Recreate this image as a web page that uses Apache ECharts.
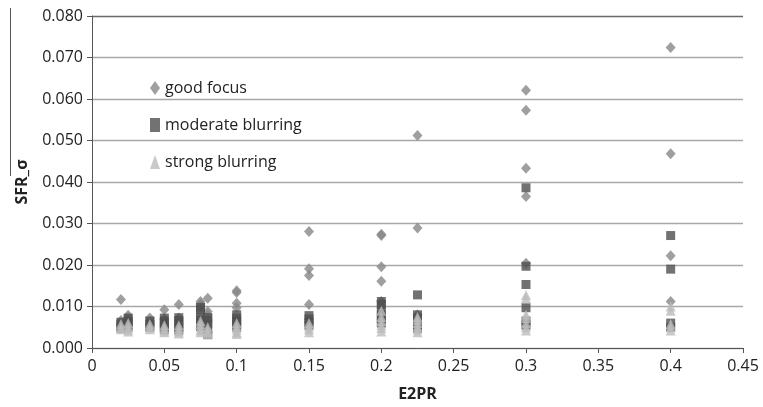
<!DOCTYPE html>
<html>
<head>
<meta charset="utf-8">
<script src="https://cdn.jsdelivr.net/npm/echarts@6/dist/echarts.min.js"></script>
<style>
  html, body { margin: 0; padding: 0; background: #ffffff; }
  #chart { width: 763px; height: 407px; }
</style>
</head>
<body>
<div id="chart"></div>
<script>
// SFR_sigma measured against E2PR for three focus conditions
const seriesNames = ['good focus', 'moderate blurring', 'strong blurring'];

const goodFocus = [
  [0.02, 0.0117], [0.02, 0.0066], [0.02, 0.0060],
  [0.025, 0.0079], [0.025, 0.0073], [0.025, 0.0068],
  [0.04, 0.0072], [0.04, 0.0065],
  [0.05, 0.0092], [0.05, 0.0070],
  [0.06, 0.0105], [0.06, 0.0072],
  [0.075, 0.0112], [0.075, 0.0106], [0.075, 0.0100],
  [0.08, 0.0120], [0.08, 0.0088], [0.08, 0.0080],
  [0.1, 0.0138], [0.1, 0.0134], [0.1, 0.0108], [0.1, 0.0097],
  [0.15, 0.0281], [0.15, 0.0191], [0.15, 0.0175], [0.15, 0.0105],
  [0.2, 0.0274], [0.2, 0.0271], [0.2, 0.0196], [0.2, 0.0161], [0.2, 0.0112],
  [0.225, 0.0512], [0.225, 0.0289], [0.225, 0.0080],
  [0.3, 0.0621], [0.3, 0.0573], [0.3, 0.0433], [0.3, 0.0365], [0.3, 0.0204],
  [0.4, 0.0724], [0.4, 0.0468], [0.4, 0.0222], [0.4, 0.0112]
];

const moderateBlurring = [
  [0.02, 0.0062], [0.02, 0.0055], [0.02, 0.0048],
  [0.025, 0.0072], [0.025, 0.0065], [0.025, 0.0058], [0.025, 0.0050],
  [0.04, 0.0065], [0.04, 0.0058], [0.04, 0.0050],
  [0.05, 0.0072], [0.05, 0.0065], [0.05, 0.0058], [0.05, 0.0050], [0.05, 0.0045],
  [0.06, 0.0073], [0.06, 0.0066], [0.06, 0.0058], [0.06, 0.0050], [0.06, 0.0043],
  [0.075, 0.0098], [0.075, 0.0092], [0.075, 0.0075], [0.075, 0.0068], [0.075, 0.0060], [0.075, 0.0052],
  [0.08, 0.0073], [0.08, 0.0066], [0.08, 0.0058], [0.08, 0.0045], [0.08, 0.0032],
  [0.1, 0.0080], [0.1, 0.0072], [0.1, 0.0065], [0.1, 0.0058], [0.1, 0.0050],
  [0.15, 0.0078], [0.15, 0.0070], [0.15, 0.0062], [0.15, 0.0055],
  [0.2, 0.0112], [0.2, 0.0105], [0.2, 0.0090], [0.2, 0.0080], [0.2, 0.0070], [0.2, 0.0060],
  [0.225, 0.0128], [0.225, 0.0080], [0.225, 0.0072], [0.225, 0.0064], [0.225, 0.0056], [0.225, 0.0048],
  [0.3, 0.0386], [0.3, 0.0197], [0.3, 0.0153], [0.3, 0.0097], [0.3, 0.0065], [0.3, 0.0055],
  [0.4, 0.0271], [0.4, 0.0190], [0.4, 0.0060], [0.4, 0.0050]
];

const strongBlurring = [
  [0.02, 0.0058], [0.02, 0.0050], [0.02, 0.0045],
  [0.025, 0.0060], [0.025, 0.0052], [0.025, 0.0045], [0.025, 0.0040],
  [0.04, 0.0058], [0.04, 0.0050], [0.04, 0.0045],
  [0.05, 0.0055], [0.05, 0.0048], [0.05, 0.0042], [0.05, 0.0038],
  [0.06, 0.0055], [0.06, 0.0047], [0.06, 0.0040], [0.06, 0.0035],
  [0.075, 0.0065], [0.075, 0.0058], [0.075, 0.0050], [0.075, 0.0043], [0.075, 0.0038],
  [0.08, 0.0050], [0.08, 0.0043], [0.08, 0.0038], [0.08, 0.0034],
  [0.1, 0.0060], [0.1, 0.0052], [0.1, 0.0045], [0.1, 0.0038], [0.1, 0.0034],
  [0.15, 0.0060], [0.15, 0.0052], [0.15, 0.0045], [0.15, 0.0038],
  [0.2, 0.0090], [0.2, 0.0075], [0.2, 0.0065], [0.2, 0.0055], [0.2, 0.0048], [0.2, 0.0040],
  [0.225, 0.0075], [0.225, 0.0068], [0.225, 0.0060], [0.225, 0.0052], [0.225, 0.0045], [0.225, 0.0038],
  [0.3, 0.0128], [0.3, 0.0120], [0.3, 0.0080], [0.3, 0.0072], [0.3, 0.0060], [0.3, 0.0050], [0.3, 0.0042],
  [0.4, 0.0100], [0.4, 0.0090], [0.4, 0.0058], [0.4, 0.0050], [0.4, 0.0042]
];

const FONT = '"Open Sans", Lato, sans-serif';
const chart = echarts.init(document.getElementById('chart'), null, { renderer: 'canvas' });

chart.setOption({
  animation: false,
  backgroundColor: '#ffffff',
  grid: { left: 92, right: 20, top: 16, bottom: 59 },
  legend: {
    orient: 'vertical',
    left: 145,
    top: 75,
    itemGap: 21,
    itemWidth: 10,
    itemHeight: 14,
    textStyle: { fontFamily: FONT, fontSize: 16, color: '#222' },
    data: [
      { name: seriesNames[0], icon: 'diamond', itemStyle: { color: '#878787' } },
      { name: seriesNames[1], icon: 'rect', itemStyle: { color: '#4f4f4f' } },
      { name: seriesNames[2], icon: 'triangle', itemStyle: { color: '#bcbcbc' } }
    ]
  },
  xAxis: {
    type: 'value',
    min: 0, max: 0.45, interval: 0.05,
    name: 'E2PR',
    nameLocation: 'middle',
    nameGap: 38,
    nameTextStyle: { fontFamily: FONT, fontSize: 16, fontWeight: 'bold', color: '#222' },
    axisLine: { lineStyle: { color: '#555', width: 1 } },
    axisTick: { show: true, length: 5, inside: false, lineStyle: { color: '#555' } },
    axisLabel: {
      fontFamily: FONT, fontSize: 16, color: '#222', margin: 10,
      formatter: v => String(parseFloat(v.toFixed(2)))
    },
    splitLine: { show: false }
  },
  yAxis: {
    type: 'value',
    min: 0, max: 0.08, interval: 0.01,
    name: 'SFR_σ',
    nameLocation: 'middle',
    nameRotate: 90,
    nameGap: 62,
    nameTextStyle: { fontFamily: FONT, fontSize: 16, fontWeight: 'bold', color: '#222' },
    axisLine: { show: true, lineStyle: { color: '#555', width: 1 } },
    axisTick: { show: true, length: 5, inside: false, lineStyle: { color: '#555' } },
    axisLabel: {
      fontFamily: FONT, fontSize: 16, color: '#222', margin: 9,
      formatter: v => v.toFixed(3)
    },
    splitLine: {
      show: true,
      lineStyle: {
        color: ['#a8a8a8', '#a8a8a8', '#a8a8a8', '#a8a8a8', '#a8a8a8', '#a8a8a8', '#a8a8a8', '#a8a8a8', '#6a6a6a'],
        width: 1.3
      }
    }
  },
  graphic: [
    {
      type: 'line',
      shape: { x1: 10.5, y1: 8, x2: 10.5, y2: 176 },
      style: { stroke: '#555', lineWidth: 1 }
    }
  ],
  series: [
    {
      name: seriesNames[0], type: 'scatter', symbol: 'diamond', symbolSize: [10, 11],
      itemStyle: { color: '#878787' }, data: goodFocus, z: 2
    },
    {
      name: seriesNames[1], type: 'scatter', symbol: 'rect', symbolSize: [9, 9],
      itemStyle: { color: '#4f4f4f' }, data: moderateBlurring, z: 3
    },
    {
      name: seriesNames[2], type: 'scatter', symbol: 'triangle', symbolSize: [10, 10],
      itemStyle: { color: '#bcbcbc' }, data: strongBlurring, z: 4
    }
  ]
});
</script>
</body>
</html>
